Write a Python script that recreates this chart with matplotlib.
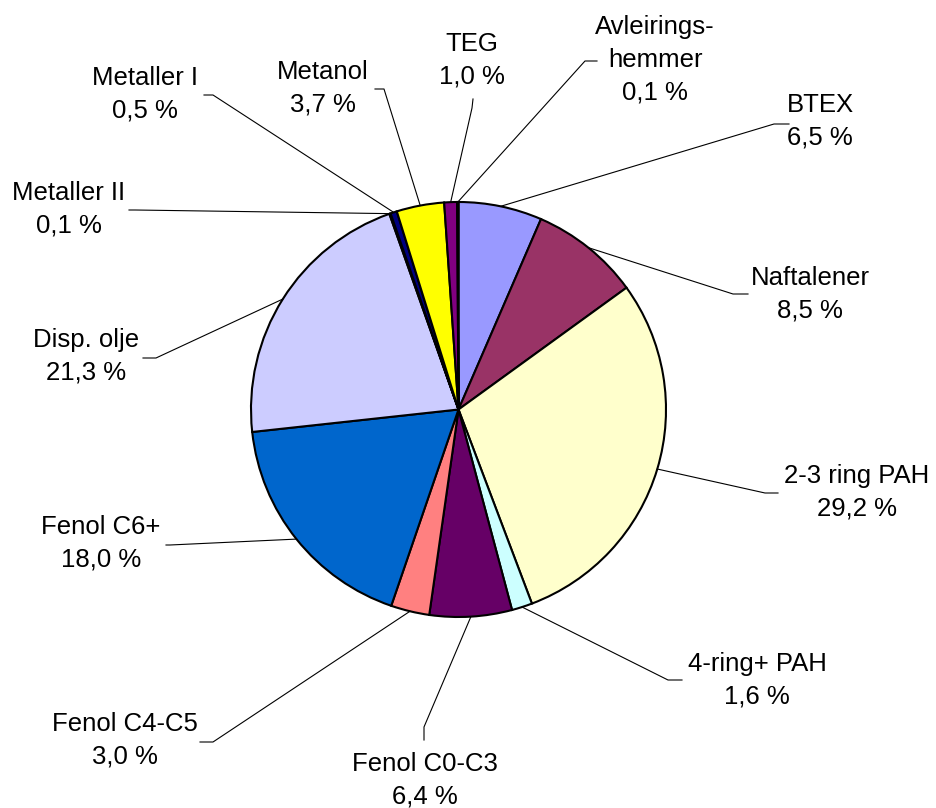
import numpy as np
import matplotlib
matplotlib.use('Agg')
import matplotlib.pyplot as plt

plt.rcParams['font.family'] = ['Liberation Sans', 'DejaVu Sans']

# Data, clockwise from 12 o'clock
labels = ['BTEX', 'Naftalener', '2-3 ring PAH', '4-ring+ PAH', 'Fenol C0-C3',
          'Fenol C4-C5', 'Fenol C6+', 'Disp. olje', 'Metaller II', 'Metaller I',
          'Metanol', 'TEG', 'Avleirings-\nhemmer']
values = [6.5, 8.5, 29.2, 1.6, 6.4, 3.0, 18.0, 21.3, 0.1, 0.5, 3.7, 1.0, 0.1]
colors = ['#9999FF', '#993366', '#FFFFCC', '#CCFFFF', '#660066', '#FF8080', '#0066CC',
          '#CCCCFF', '#FF00FF', '#000080', '#FFFF00', '#800080', '#00FFFF']

# label layout in pixel coords: text centre, leader elbow, leader tail end
text_pos = [(820, 121), (810, 294), (857, 492), (757, 680), (425, 780), (125, 740),
            (101, 543), (86, 356), (69, 209), (145, 94), (323, 88), (472, 60), (655, 60)]
elbows = [(774, 124), (733, 294), (765, 493), (668, 680), (424, 727), (213, 742),
          (170, 545), (156, 358), (135, 210), (213, 95), (384, 89), (472, 108), (585, 61)]
tails = [(789, 124), (748, 294), (778, 493), (682, 680), (424, 740), (200, 742),
         (166, 545), (143, 358), (129, 210), (204, 95), (375, 89), (473, 99), (597, 61)]

W, H = 936, 808
cx, cy, r = 458.5, 409.5, 207.5

fig = plt.figure(figsize=(W / 100, H / 100), dpi=100)
ax = fig.add_axes([0, 0, 1, 1])

# y axis is inverted, so counterclock in data = clockwise on screen
ax.pie(values, colors=colors, startangle=-90, counterclock=True,
       center=(cx, cy), radius=r, frame=True,
       wedgeprops=dict(edgecolor='black', linewidth=1.5))
ax.set_xlim(0, W)
ax.set_ylim(H, 0)
ax.set_aspect('equal')
ax.axis('off')

total = sum(values)
cum = 0
for i, v in enumerate(values):
    theta = np.deg2rad(-90 + 360 * (cum + v / 2) / total)
    cum += v
    sx, sy = cx + r * np.cos(theta), cy + r * np.sin(theta)
    ex, ey = elbows[i]
    tx, ty = tails[i]
    ax.plot([sx, ex, tx], [sy, ey, ty], color='black', linewidth=0.8)
    pct = f'{v:.1f}'.replace('.', ',') + ' %'
    ax.text(text_pos[i][0], text_pos[i][1], f'{labels[i]}\n{pct}',
            ha='center', va='center', fontsize=18.5, linespacing=1.45)

fig.savefig('out.png', dpi=100)
